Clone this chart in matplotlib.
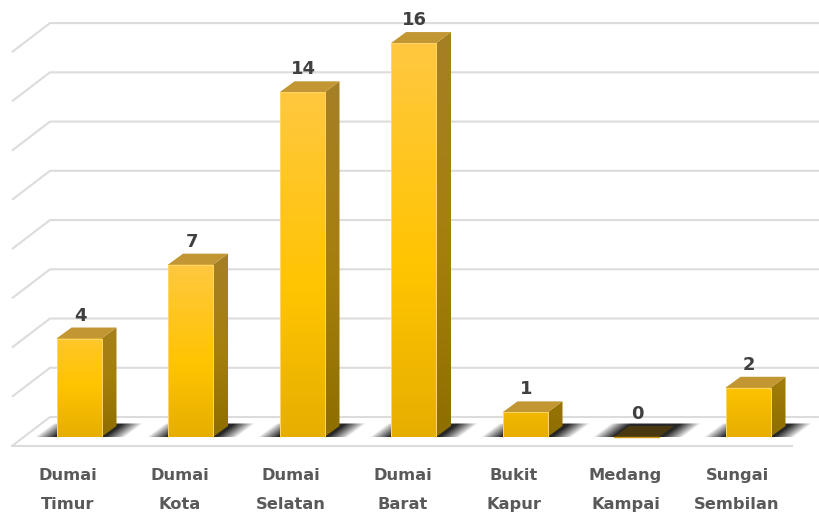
import numpy as np
import matplotlib
matplotlib.use("Agg")
import matplotlib.pyplot as plt
from matplotlib.colors import LinearSegmentedColormap
from matplotlib.patches import Polygon

districts = ["Dumai\nTimur", "Dumai\nKota", "Dumai\nSelatan", "Dumai\nBarat",
             "Bukit\nKapur", "Medang\nKampai", "Sungai\nSembilan"]
counts = [4, 7, 14, 16, 1, 0, 2]
grid_values = [0, 2, 4, 6, 8, 10, 12, 14, 16]

# pixel sizes of the picture, used to set up the scales
W, H = 819, 514
px_x = 111.5
px_y = 24.62
x0_px = 79
y0_px = 437

bar_w = 45 / px_x
dx = 15 / px_x
dy = 11 / px_y

front_cmap = LinearSegmentedColormap.from_list("front", [(0, "#E6AE00"), (0.42, "#FFC400"), (1, "#FFC840")])
side_cmap = LinearSegmentedColormap.from_list("side", [(0, "#8E6E00"), (0.45, "#A57F0C"), (1, "#A67F25")])

fig = plt.figure(figsize=(W / 100, H / 100), dpi=100)
ax = fig.add_axes([0, 0, 1, 1])
ax.set_xlim(-x0_px / px_x, (W - x0_px) / px_x)
ax.set_ylim(-(H - y0_px) / px_y, y0_px / px_y)
ax.axis("off")

# grid, back wall + left wall
back = 20 / px_y
front = -9 / px_y
left_front = (12 - x0_px) / px_x
left_back = (50 - x0_px) / px_x
right_back = (830 - x0_px) / px_x
for g in grid_values:
    ax.plot([left_front, left_back, right_back], [g + front, g + back, g + back],
            color="#DCDCDC", lw=1.5, solid_capstyle="butt", zorder=1)
# front edge of the floor
ax.plot([left_front, (792 - x0_px) / px_x], [front, front], color="#DCDCDC", lw=1.5, zorder=1)

# floor shadow, skewed in pixels: u runs along the floor, h goes up
gx, gy = np.meshgrid(np.arange(-60, 80), np.arange(0, 15))
u = gx - 1.35 * gy
along = np.where(u < -24, np.clip((u + 44) / 20, 0, 1), np.where(u > 26, np.clip((46 - u) / 20, 0, 1), 1.0)) ** 0.9
up = np.clip((14 - gy) / 2, 0, 1)
shadow = np.zeros(gx.shape + (4,))
shadow[..., 3] = along * up * 0.85

for i, v in enumerate(counts):
    l = i - bar_w / 2
    r = i + bar_w / 2

    ax.imshow(shadow, origin="lower", extent=[i - 60 / px_x, i + 80 / px_x, 0, 15 / px_y], aspect="auto",
              zorder=2, interpolation="bilinear")

    if v == 0:
        ax.add_patch(Polygon([(l, 0), (r, 0), (r + dx, dy), (l + dx, dy)], fc="#4A3810", ec="none", zorder=3))
        ax.plot([l, r], [0, 0], color="#C99A10", lw=1, zorder=4)
    else:
        # front face
        frac = min(1.0, v / 5)
        ax.imshow(np.linspace(frac, 0, 256).reshape(-1, 1), cmap=front_cmap, vmin=0, vmax=1,
                  extent=[l, r, 0, v], aspect="auto", zorder=4, interpolation="bilinear")
        # side face
        side = ax.imshow(np.linspace(frac, 0, 256).reshape(-1, 1), cmap=side_cmap, vmin=0, vmax=1,
                         extent=[r, r + dx, 0, v + dy], aspect="auto", zorder=3, interpolation="bilinear")
        side_clip = Polygon([(r, 0), (r + dx, dy), (r + dx, v + dy), (r, v)], transform=ax.transData,
                            fc="none", ec="none")
        ax.add_patch(side_clip)
        side.set_clip_path(side_clip)
        # top face
        ax.add_patch(Polygon([(l, v), (r, v), (r + dx, v + dy), (l + dx, v + dy)],
                             fc="#C29632", ec="none", zorder=4))
        # light rim
        ax.plot([l, l, r, r], [0, v, v, 0], color="#FFD76A", lw=0.7, zorder=5)

    ax.text(i + 1 / px_x, v + dy + 3 / px_y, str(v), ha="center", va="bottom", fontsize=13,
            fontweight="bold", color="#404040", zorder=6)
    first, second = districts[i].split("\n")
    ax.text(i - 11 / px_x, -43 / px_y, first, ha="center", va="baseline", fontsize=11.7,
            fontweight="bold", color="#595959", zorder=6)
    ax.text(i - 11 / px_x, -72 / px_y, second, ha="center", va="baseline", fontsize=11.7,
            fontweight="bold", color="#595959", zorder=6)

ax.set_xlim(-x0_px / px_x, (W - x0_px) / px_x)
ax.set_ylim(-(H - y0_px) / px_y, y0_px / px_y)
fig.savefig("out.png", dpi=100)
